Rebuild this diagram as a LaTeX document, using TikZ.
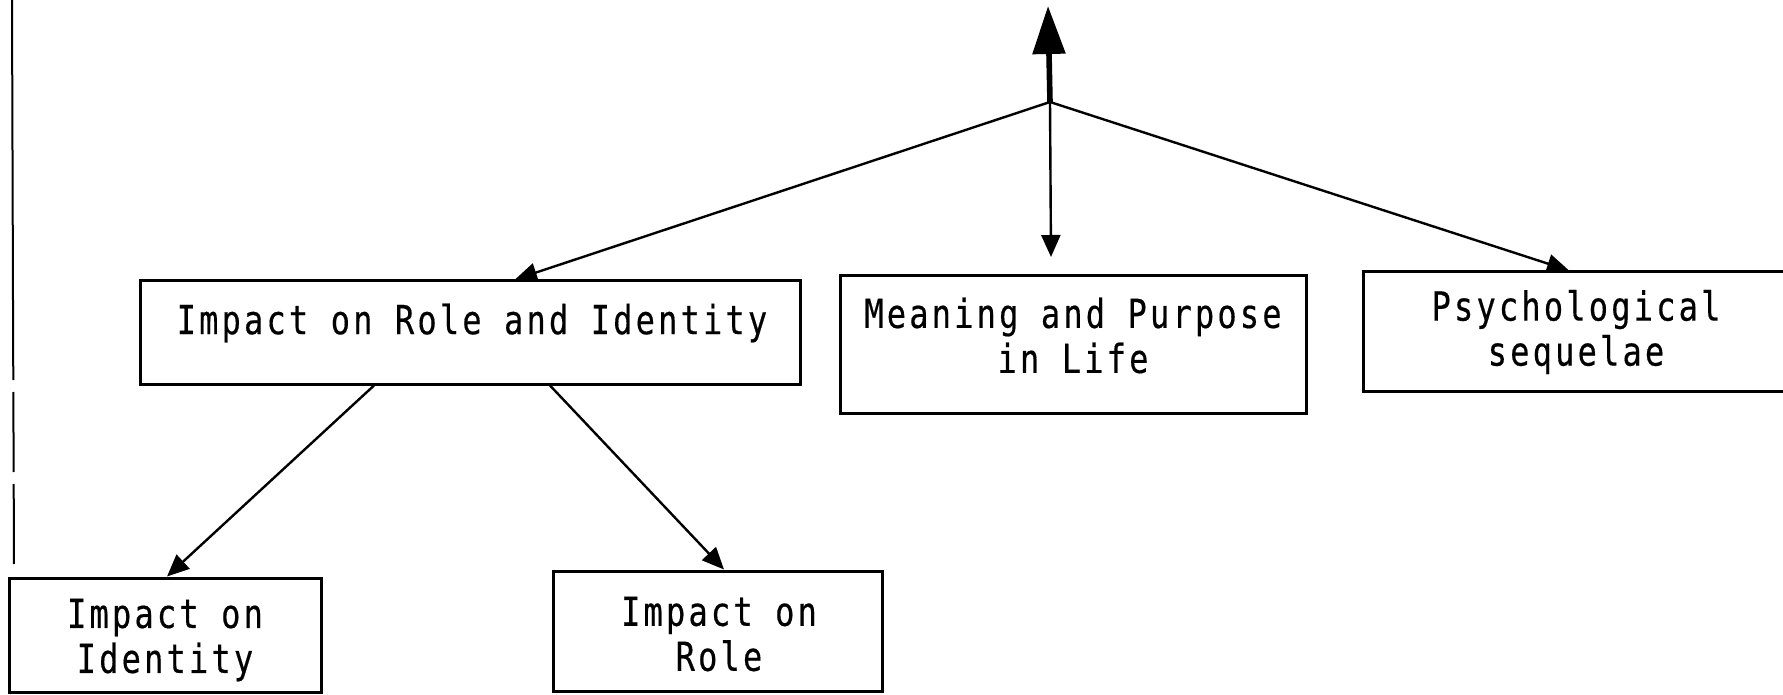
\documentclass[tikz,border=0pt]{standalone}
\usepackage{fontspec}
\usetikzlibrary{arrows.meta,calc}
\newfontfamily\gothic[FakeStretch=0.8,LetterSpace=8,FakeBold=0.4]{DejaVu Sans Mono}
\begin{document}
\begin{tikzpicture}[x=0.5pt,y=-0.5pt,
  box/.style={draw,line width=1.5pt,inner sep=0pt},
  label text/.style={font=\gothic\fontsize{20}{22.5}\selectfont,align=center,inner sep=0pt},
  conn/.style={line width=1.2pt,-{Triangle[length=11pt,width=9.5pt]}},
  heavy/.style={line width=2.8pt,-{Triangle[length=24pt,width=16pt]}}]
\useasboundingbox (0,0) rectangle (1783,695);
\clip (0,0) rectangle (1783,695);
% page edge on the left
\draw[line width=1pt] (12,0) -- (13,300);
\draw[line width=1pt,dash pattern=on 40pt off 6pt] (13,300) -- (14,565);
% boxes
\node[box,minimum width=330pt,minimum height=51.5pt] (ri) at (470,332.5) {};
\node[box,minimum width=233pt,minimum height=68.5pt] (mp) at (1073,344.5) {};
\node[box,minimum width=223.5pt,minimum height=59.5pt] (ps) at (1586.5,331.5) {};
\node[box,minimum width=156pt,minimum height=57pt] (id) at (165,635) {};
\node[box,minimum width=164.5pt,minimum height=60pt] (ro) at (717.5,631) {};
% texts
\node[label text] (ri-t) at (472,323) {Impact on Role and Identity};
\node[label text] (mp-t) at (1073,335.5) {Meaning and Purpose\\in Life};
\node[label text] (ps-t) at (1576,332) {Psychological\\sequelae};
\node[label text] (id-t) at (165,640) {Impact on\\Identity};
\node[label text] (ro-t) at (719,634) {Impact on\\Role};
% connectors
\coordinate (J) at (1050,102);
\coordinate (up) at (1048,6);
\coordinate (down) at (1051,257);
\draw[heavy] (J) -- (up);
\draw[conn] (J) -- (down);
\draw[conn] (J) -- ([xshift=22.5pt]ri.north);
\draw[conn] (J) -- ([xshift=-8.75pt]ps.north);
\draw[conn] ([xshift=-48pt]ri.south) -- ([xshift=1pt]id.north);
\draw[conn] ([xshift=40pt]ri.south) -- ([xshift=3.25pt]ro.north);
\end{tikzpicture}
\end{document}
